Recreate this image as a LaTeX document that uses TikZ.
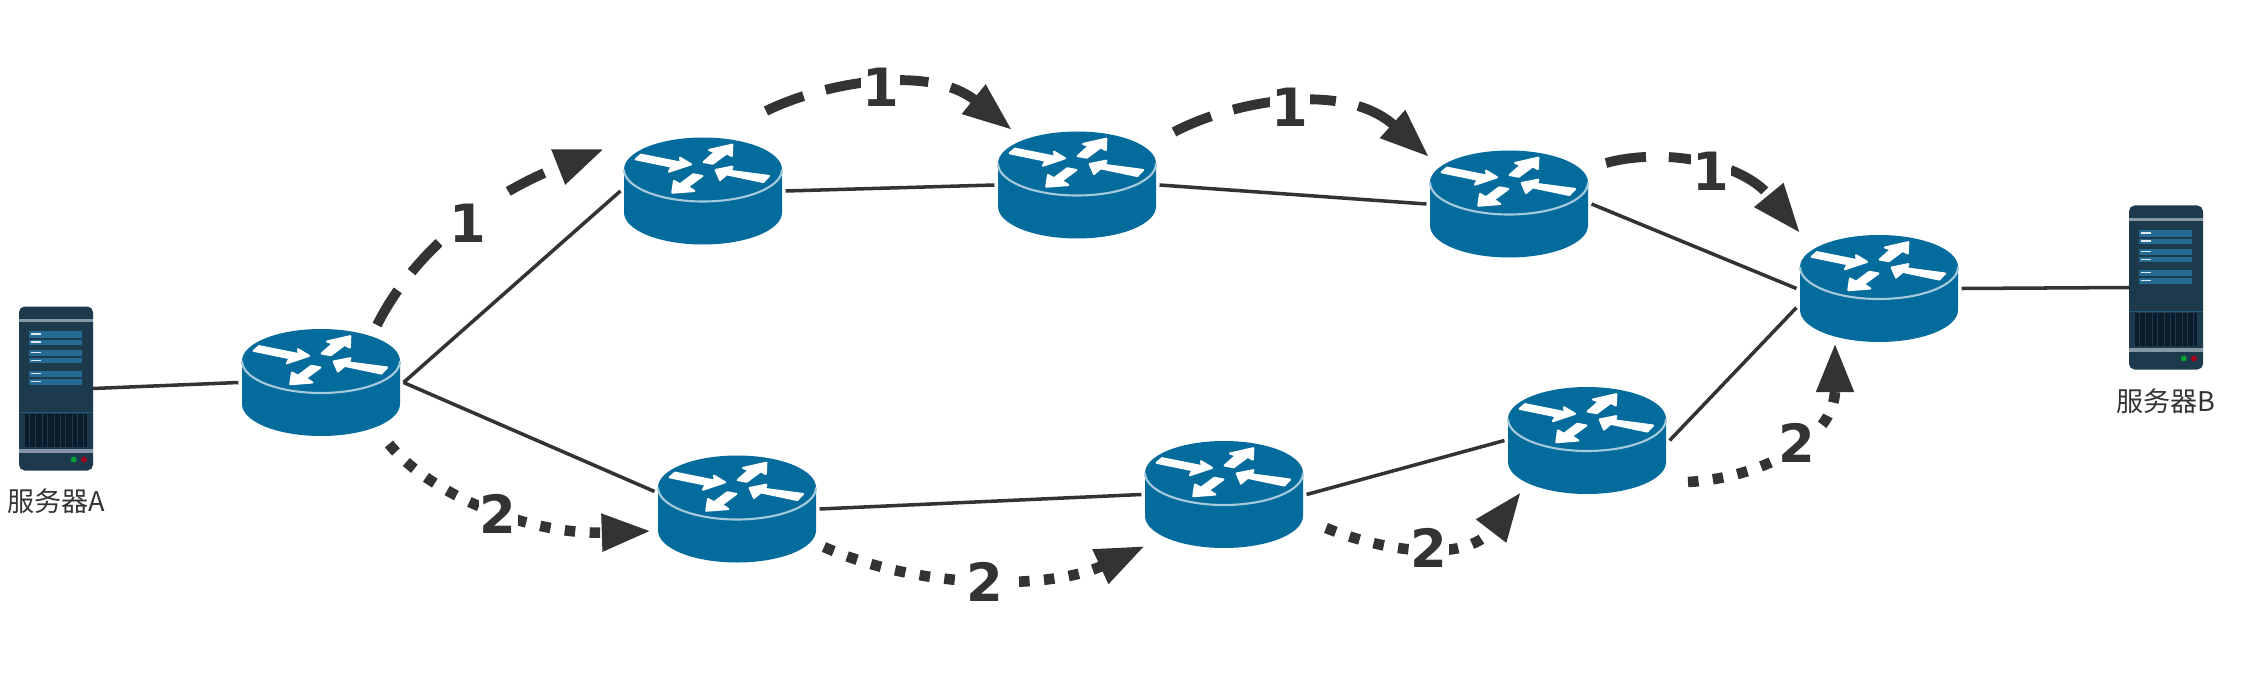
\documentclass[tikz,border=0pt]{standalone}
\usepackage{fontspec}
\newfontfamily\cjk{Noto Sans CJK SC}
\newfontfamily\hoplabelfont{DejaVu Sans}[BoldFont={DejaVu Sans Bold}]
\usetikzlibrary{arrows.meta}
\definecolor{routerblue}{HTML}{046C9C}
\definecolor{routerline}{HTML}{A5CADC}
\definecolor{serverbody}{HTML}{1D3A4C}
\definecolor{serverbar}{HTML}{256A92}
\definecolor{serverband}{HTML}{8497A3}
\definecolor{servervent}{HTML}{0C1B2A}
\definecolor{linkgray}{HTML}{333333}
\tikzset{
	routerbox/.style={minimum width=1.58cm,minimum height=1.07cm,inner sep=0pt,outer sep=1pt},
	serverbox/.style={minimum width=0.74cm,minimum height=1.64cm,inner sep=0pt,outer sep=0pt},
	link/.style={draw=linkgray,line width=1pt},
	hopdash/.style={draw=linkgray,line width=2.8pt,dash pattern=on 11.5pt off 6.5pt,->},
	hopdot/.style={draw=linkgray,line width=3pt,dash pattern=on 3pt off 4.1pt,->},
	hoplabel/.style={fill=white,inner sep=0.4pt,yshift=-0.8pt,text=linkgray,font=\hoplabelfont\bfseries\fontsize{15}{15}\selectfont},
	srvlabel/.style={inner sep=0pt,text=linkgray,font=\cjk\fontsize{7.7}{8}\selectfont},
	routerart/.pic={
		\fill[routerblue] (-79,-21.5) -- (-79,21.5) arc[start angle=180,end angle=0,x radius=79,y radius=32] -- (79,-21.5) arc[start angle=0,end angle=-180,x radius=79,y radius=32] -- cycle;
		\draw[routerline,line width=0.6pt] (-79,-21.5) arc[start angle=180,end angle=0,x radius=79,y radius=32];
		\filldraw[white,line width=0.6pt] (-67.3,-31.7)--(-62,-36.3)--(-22,-28.3)--(-23,-33.3)--(-12,-26.7)--(-34,-19.3)--(-31.3,-24.3)--cycle;
		\filldraw[white,line width=0.6pt] (0.7,-29)--(12,-39)--(6,-41)--(29.3,-46.3)--(28.7,-35)--(23.7,-37.7)--(9.7,-27.3)--cycle;
		\filldraw[white,line width=0.6pt] (12.7,-21)--(29.3,-24.3)--(28,-20)--(66,-15)--(60.3,-9)--(23.7,-16.7)--(17,-11)--cycle;
		\filldraw[white,line width=0.6pt] (-30.7,1.7)--(-29,-10)--(-23,-6.7)--(-9.7,-16.7)--(-0.7,-15)--(-15.3,-4.3)--(-8.7,0)--cycle;
	},
	serverart/.pic={
		\fill[serverbody,rounded corners=1.6pt] (-37,-82) rectangle (37,82);
		\fill[serverband] (-37,-70) rectangle (37,-66.5);
		\foreach \ya/\yb in {-58/-51,-49/-43.7,-39/-33,-30.7/-25.3,-18/-12,-9.7/-4} {
			\fill[serverbar] (-27,\ya) rectangle (26,\yb);
			\fill[white!85!serverbar] (-25,{(\ya+\yb)/2-0.8}) rectangle (-15,{(\ya+\yb)/2+0.8});
		}
		\fill[serverbar!70!serverbody] (-37,23) rectangle (37,24.5);
		\fill[servervent] (-31,25.5) rectangle (31,58.5);
		\foreach \xa in {-27,-21,-14,-9,-2,4,9,16,21,27} {
			\fill[serverbody] (\xa,25.5) rectangle ({\xa+1.4},58.5);
		}
		\fill[serverband] (-37,60) rectangle (37,64);
		\fill[green!55!black!80!cyan] (17.7,71) circle (3);
		\fill[red!70!black!90!blue] (28,71) circle (3);
	},
}

\begin{document}
\begin{tikzpicture}[line cap=butt,line join=round,>={Triangle[length=14pt,width=10pt]},x=0.01cm,y=-0.01cm]
	\useasboundingbox (0,0) rectangle (2258,682);
	% routers
	\foreach \n/\x/\y in {r0/321/382.5,r1/703/191,r2/1077/185,r3/1509/204,r4/1879/288.5,r5/737/509,r6/1224/494.5,r7/1587/440.5} {
		\node[routerbox] (\n) at (\x,\y) {};
		\pic at (\n) {routerart};
	}
	% servers
	\node[serverbox] (srvA) at (56,388.5) {};
	\pic at (srvA) {serverart};
	\node[serverbox] (srvB) at (2166,287.5) {};
	\pic at (srvB) {serverart};
	\node[srvlabel] (nameA) at (56,501) {服务器A};
	\node[srvlabel] (nameB) at (2166,401) {服务器B};
	% links
	\draw[link] (srvA.east) -- (r0.west);
	\draw[link] (r0.east) -- (r1.west);
	\draw[link] (r1.east) -- (r2.west);
	\draw[link] (r2.east) -- (r3.west);
	\draw[link] (r3.east) -- (r4.west);
	\draw[link] (r4.east) -- (srvB.west);
	\draw[link] (r0.east) -- (r5.168);
	\draw[link] (r5.east) -- (r6.west);
	\draw[link] (r6.east) -- (r7.west);
	\draw[link] (r7.east) -- (r4.193);
	% free ends of the hop arrows
	\coordinate (a0) at (377,325);
	\coordinate (a1) at (604,149);
	\coordinate (b0) at (766,111);
	\coordinate (b1) at (1012,130);
	\coordinate (c0) at (1174,132);
	\coordinate (c1) at (1429,157);
	\coordinate (d0) at (1606,163);
	\coordinate (d1) at (1800,233);
	\coordinate (e0) at (389,444);
	\coordinate (e1) at (651,531);
	\coordinate (f0) at (824,547);
	\coordinate (f1) at (1145,546);
	\coordinate (g0) at (1326,528);
	\coordinate (g1) at (1521,492);
	\coordinate (h0) at (1688,482);
	\coordinate (h1) at (1835,343);
	% path 1
	\draw[hopdash] (a0) .. controls (420,240) and (500,190) .. (a1) node[pos=0.5,hoplabel,inner sep=2pt] (la) {1};
	\draw[hopdash] (b0) .. controls (825,82) and (930,64) .. (b1) node[pos=0.5,hoplabel] (lb) {1};
	\draw[hopdash] (c0) .. controls (1235,100) and (1345,81) .. (c1) node[pos=0.49,hoplabel] (lc) {1};
	\draw[hopdash] (d0) .. controls (1660,148) and (1740,160) .. (d1) node[pos=0.55,hoplabel] (ld) {1};
	% path 2
	\draw[hopdot] (e0) .. controls (430,495) and (530,535) .. (e1) node[pos=0.53,hoplabel] (le) {2};
	\draw[hopdot] (f0) .. controls (920,590) and (1050,590) .. (f1) node[pos=0.5,hoplabel] (lf) {2};
	\draw[hopdot] (g0) .. controls (1380,550) and (1465,565) .. (g1) node[pos=0.53,hoplabel] (lg) {2};
	\draw[hopdot] (h0) .. controls (1760,478) and (1835,440) .. (h1) node[pos=0.55,hoplabel] (lh) {2};
\end{tikzpicture}
\end{document}
